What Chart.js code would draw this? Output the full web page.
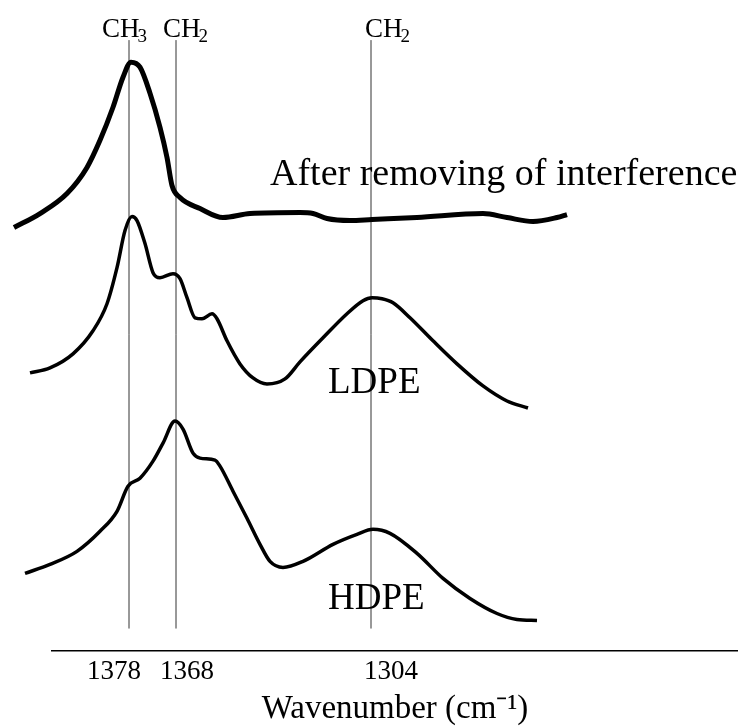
<!DOCTYPE html>
<html>
<head>
<meta charset="utf-8">
<title>IR spectra LDPE / HDPE</title>
<script src="https://cdn.jsdelivr.net/npm/chart.js@4.4.1/dist/chart.umd.min.js"></script>
<style>
  html, body { margin: 0; padding: 0; background: #fff; }
  #wrap { width: 738px; height: 726px; position: relative; }
</style>
</head>
<body>
<div id="wrap"><canvas id="irChart"></canvas></div>
<script>
// positions along the axis are in arbitrary plot units (the axis is not linear in cm-1)
var tickPositions = [62, 135, 339];
var tickLabels = ["1378", "1368", "1304"];

// band marker lines (CH3 1378, CH2 1368, CH2 1304)
var bandNames = ["CH3", "CH2", "CH2"];
var bandPositions = [77, 124, 319];
var bandLineTop = 609;
var bandLineBottom = 22;

// spectra (x = position, y = offset absorbance, a.u.)
var afterX = [-38, -12, 15, 35, 48, 61, 71, 79, 88, 98, 108, 115, 120, 128, 148, 171, 198, 248, 261, 275, 298, 320, 365, 431, 455, 481, 505, 515];
var afterY = [422, 436, 456, 482, 509, 542, 572, 587, 582, 556, 522, 492, 464, 452, 441, 432, 436, 437, 436, 431, 429, 430, 432, 436, 432, 428, 432, 435];

var ldpeX = [-22, -2, 21, 41, 55, 65, 73, 80, 85, 93, 101, 108, 121, 128, 135, 143, 150, 160, 165, 175, 188, 201, 215, 233, 248, 271, 295, 311, 320, 330, 341, 358, 381, 405, 431, 455, 476];
var ldpeY = [277, 282, 296, 319, 346, 382, 419, 433, 429, 406, 377, 372, 376, 371, 352, 332, 331, 336, 331, 309, 286, 272, 266, 271, 288, 312, 336, 349, 352, 351, 347, 332, 309, 286, 264, 249, 242];

var hdpeX = [-27, -2, 25, 48, 65, 76, 88, 101, 111, 123, 131, 141, 148, 163, 168, 181, 195, 208, 218, 231, 251, 281, 305, 321, 338, 365, 391, 418, 445, 465, 485];
var hdpeY = [77, 86, 99, 119, 139, 164, 172, 189, 207, 229, 221, 197, 192, 190, 184, 159, 132, 106, 89, 83, 89, 106, 116, 121, 117, 97, 72, 52, 37, 31, 30];

var seriesNames = ["After removing of interference", "LDPE", "HDPE"];

function toPoints(xs, ys) {
    var pts = [];
    for (var i = 0; i < xs.length; i++) {
        pts.push({ x: xs[i], y: ys[i] });
    }
    return pts;
}

var serif = "'Liberation Serif', 'Times New Roman', serif";

var datasets = [
    { label: seriesNames[0], data: toPoints(afterX, afterY), borderWidth: 5 },
    { label: seriesNames[1], data: toPoints(ldpeX, ldpeY), borderWidth: 3.5 },
    { label: seriesNames[2], data: toPoints(hdpeX, hdpeY), borderWidth: 3.5 }
];
datasets.forEach(function(d) {
    d.borderColor = "#000";
    d.pointRadius = 0;
    d.cubicInterpolationMode = "monotone";
    d.clip = false;
    d.fill = false;
});

// thin vertical marker lines
bandPositions.forEach(function(p, i) {
    datasets.push({
        label: bandNames[i] + " line",
        data: [{ x: p, y: bandLineBottom }, { x: p, y: bandLineTop }],
        borderColor: "#333",
        borderWidth: 1,
        pointRadius: 0,
        clip: false
    });
});

// where the text labels sit, in plot units
var seriesLabelPos = [
    { x: 218, y: 464, size: 38 },
    { x: 276, y: 257, size: 37 },
    { x: 276, y: 41, size: 37 }
];
var bandLabelLeft = [50, 111, 313];
var bandLabelBase = 612;

var labelPlugin = {
    id: "labels",
    afterDatasetsDraw: function(chart) {
        var ctx = chart.ctx;
        var xs = chart.scales.x, ys = chart.scales.y;
        ctx.save();
        ctx.fillStyle = "#000";
        ctx.textBaseline = "alphabetic";
        ctx.textAlign = "left";
        seriesNames.forEach(function(name, i) {
            var p = seriesLabelPos[i];
            ctx.font = p.size + "px " + serif;
            ctx.fillText(name, xs.getPixelForValue(p.x), ys.getPixelForValue(p.y));
        });
        // CH3 / CH2 with a subscript digit
        bandNames.forEach(function(name, i) {
            var x = xs.getPixelForValue(bandLabelLeft[i]);
            var y = ys.getPixelForValue(bandLabelBase);
            ctx.font = "27px " + serif;
            ctx.fillText("CH", x, y);
            var w = ctx.measureText("CH").width;
            ctx.font = "19px " + serif;
            ctx.fillText(name.slice(2), x + w - 2, y + 5);
        });
        ctx.restore();
    }
};

var bg = {
    id: "bg",
    beforeDraw: function(chart) {
        var ctx = chart.ctx;
        ctx.save();
        ctx.fillStyle = "#fff";
        ctx.fillRect(0, 0, chart.width, chart.height);
        ctx.restore();
    }
};

new Chart(document.getElementById("irChart").getContext("2d"), {
    type: "line",
    data: { datasets: datasets },
    options: {
        responsive: true,
        maintainAspectRatio: false,
        animation: false,
        layout: { padding: { left: 52, right: 0, top: 0, bottom: 0 } },
        plugins: { legend: { display: false }, tooltip: { enabled: false } },
        scales: {
            x: {
                type: "linear",
                bounds: "data",
                // range set here (not via min/max) so the curve ends left of the axis still get drawn
                afterDataLimits: function(scale) {
                    scale.min = 0;
                    scale.max = 686;
                },
                afterBuildTicks: function(scale) {
                    scale.ticks = tickPositions.map(function(v) { return { value: v }; });
                },
                ticks: {
                    autoSkip: false,
                    maxRotation: 0,
                    padding: 5,
                    color: "#000",
                    font: { family: serif, size: 27 },
                    callback: function(value, index) { return tickLabels[index]; }
                },
                grid: { display: false, drawTicks: false },
                border: { display: true, color: "#000", width: 1.5 },
                title: {
                    display: true,
                    text: "Wavenumber (cm\u207B\u00B9)",
                    color: "#000",
                    font: { family: serif, size: 33, lineHeight: 1.0 },
                    padding: { top: 0, bottom: 0 }
                }
            },
            y: {
                type: "linear",
                display: false,
                min: 0,
                max: 649
            }
        }
    },
    plugins: [bg, labelPlugin]
});
</script>
</body>
</html>
